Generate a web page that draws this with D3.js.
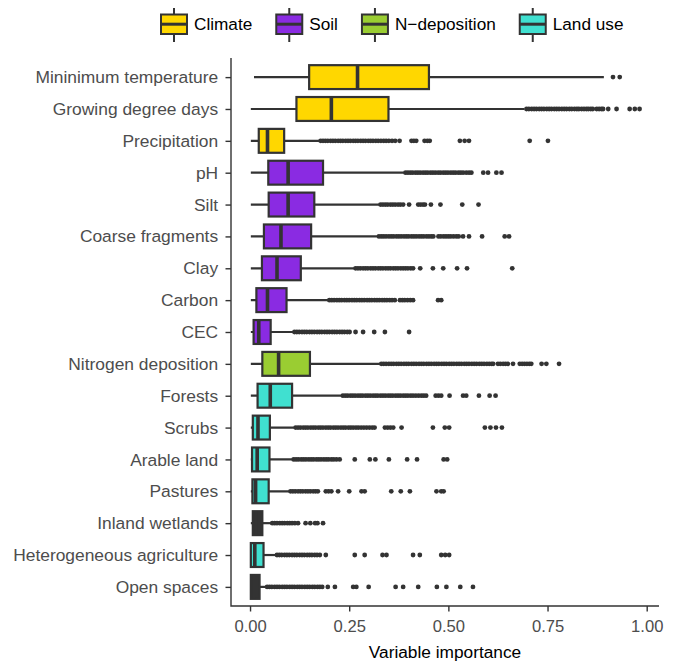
<!DOCTYPE html>
<html>
<head>
<meta charset="utf-8">
<script src="https://cdn.jsdelivr.net/npm/d3@7"></script>
<style>
  body { margin: 0; background: #fff; }
  text { font-family: "Liberation Sans", Arial, sans-serif; }
</style>
</head>
<body>
<div id="chart"></div>
<script>
// variables, top to bottom
const variables = ["Mininimum temperature", "Growing degree days", "Precipitation", "pH", "Silt",
  "Coarse fragments", "Clay", "Carbon", "CEC", "Nitrogen deposition", "Forests", "Scrubs",
  "Arable land", "Pastures", "Inland wetlands", "Heterogeneous agriculture", "Open spaces"];

const groups = ["Climate", "Climate", "Climate", "Soil", "Soil", "Soil", "Soil", "Soil", "Soil",
  "N\u2212deposition", "Land use", "Land use", "Land use", "Land use", "Land use", "Land use", "Land use"];

const groupNames = ["Climate", "Soil", "N\u2212deposition", "Land use"];
const groupColors = ["#FFD700", "#8A2BE2", "#9ACD32", "#40E0D0"];

// [lower whisker, q1, median, q3, upper whisker]
const stats = [
  [0.010, 0.149, 0.271, 0.451, 0.892],
  [0.002, 0.117, 0.205, 0.349, 0.692],
  [0.002, 0.022, 0.044, 0.086, 0.176],
  [0.002, 0.046, 0.096, 0.184, 0.390],
  [0.002, 0.047, 0.096, 0.162, 0.327],
  [0.002, 0.035, 0.078, 0.154, 0.323],
  [0.002, 0.030, 0.068, 0.128, 0.264],
  [0.002, 0.016, 0.044, 0.092, 0.198],
  [0.002, 0.009, 0.022, 0.052, 0.110],
  [0.002, 0.031, 0.072, 0.151, 0.329],
  [0.002, 0.019, 0.051, 0.106, 0.232],
  [0.002, 0.007, 0.020, 0.050, 0.113],
  [0.002, 0.005, 0.018, 0.049, 0.108],
  [0.002, 0.006, 0.014, 0.047, 0.100],
  [0.002, 0.007, 0.015, 0.031, 0.054],
  [0.002, 0.002, 0.012, 0.034, 0.066],
  [0.002, 0.002, 0.010, 0.024, 0.041]
];

const outliers = [
  [0.915, 0.932],
  [0.697, 0.703, 0.710, 0.716, 0.722, 0.729, 0.735, 0.741, 0.748, 0.754, 0.760, 0.767, 0.773, 0.779,
   0.786, 0.792, 0.798, 0.805, 0.811, 0.818, 0.824, 0.829, 0.836, 0.842, 0.848, 0.853, 0.859, 0.864,
   0.874, 0.880, 0.886, 0.890, 0.903, 0.924, 0.957, 0.970, 0.982],
  [0.178, 0.184, 0.190, 0.196, 0.203, 0.209, 0.215, 0.222, 0.228, 0.234, 0.241, 0.247, 0.253, 0.260,
   0.266, 0.272, 0.279, 0.285, 0.291, 0.298, 0.304, 0.310, 0.317, 0.323, 0.330, 0.337, 0.343, 0.350,
   0.358, 0.366, 0.377, 0.407, 0.413, 0.419, 0.440, 0.447, 0.453, 0.529, 0.541, 0.552, 0.705, 0.751],
  [0.392, 0.398, 0.404, 0.410, 0.417, 0.423, 0.429, 0.436, 0.442, 0.448, 0.455, 0.461, 0.467, 0.474,
   0.480, 0.487, 0.493, 0.499, 0.506, 0.512, 0.518, 0.525, 0.531, 0.537, 0.545, 0.552, 0.558,
   0.588, 0.600, 0.621, 0.634],
  [0.329, 0.335, 0.341, 0.347, 0.354, 0.360, 0.366, 0.373, 0.379, 0.386, 0.401, 0.424, 0.430, 0.436,
   0.441, 0.456, 0.480, 0.535, 0.576],
  [0.325, 0.331, 0.337, 0.343, 0.350, 0.356, 0.362, 0.369, 0.375, 0.381, 0.388, 0.394, 0.400, 0.407,
   0.413, 0.419, 0.426, 0.432, 0.438, 0.445, 0.451, 0.457, 0.462, 0.475, 0.481, 0.488, 0.494, 0.500,
   0.506, 0.513, 0.520, 0.526, 0.537, 0.552, 0.585, 0.642, 0.653],
  [0.266, 0.272, 0.278, 0.285, 0.291, 0.297, 0.304, 0.310, 0.316, 0.323, 0.329, 0.335, 0.342, 0.348,
   0.354, 0.361, 0.367, 0.373, 0.380, 0.386, 0.392, 0.398, 0.405, 0.411, 0.429, 0.461, 0.487, 0.522,
   0.547, 0.661],
  [0.200, 0.206, 0.212, 0.219, 0.225, 0.231, 0.238, 0.244, 0.250, 0.257, 0.263, 0.269, 0.276, 0.282,
   0.288, 0.295, 0.301, 0.307, 0.314, 0.320, 0.326, 0.333, 0.339, 0.345, 0.352, 0.358, 0.365, 0.378,
   0.384, 0.390, 0.397, 0.404, 0.411, 0.474, 0.482],
  [0.112, 0.118, 0.124, 0.131, 0.137, 0.143, 0.150, 0.156, 0.162, 0.169, 0.175, 0.181, 0.188, 0.194,
   0.200, 0.207, 0.213, 0.219, 0.226, 0.232, 0.238, 0.245, 0.251, 0.266, 0.285, 0.313, 0.340, 0.401],
  [0.331, 0.337, 0.343, 0.350, 0.356, 0.362, 0.369, 0.375, 0.381, 0.388, 0.394, 0.400, 0.407, 0.413,
   0.419, 0.426, 0.432, 0.438, 0.445, 0.451, 0.457, 0.464, 0.470, 0.476, 0.483, 0.489, 0.495, 0.502,
   0.508, 0.514, 0.521, 0.527, 0.533, 0.540, 0.546, 0.552, 0.559, 0.565, 0.571, 0.578, 0.584, 0.590,
   0.597, 0.603, 0.609, 0.613, 0.625, 0.631, 0.638, 0.644, 0.650, 0.663, 0.680, 0.686, 0.692, 0.698,
   0.704, 0.709, 0.735, 0.747, 0.779],
  [0.234, 0.240, 0.246, 0.253, 0.259, 0.265, 0.272, 0.278, 0.284, 0.291, 0.297, 0.303, 0.310, 0.316,
   0.322, 0.329, 0.335, 0.341, 0.348, 0.354, 0.360, 0.367, 0.373, 0.379, 0.386, 0.392, 0.398, 0.405,
   0.411, 0.418, 0.425, 0.432, 0.438, 0.444, 0.468, 0.475, 0.482, 0.503, 0.537, 0.545, 0.577, 0.604, 0.619],
  [0.115, 0.121, 0.127, 0.134, 0.140, 0.146, 0.153, 0.159, 0.165, 0.172, 0.178, 0.184, 0.191, 0.197,
   0.203, 0.210, 0.216, 0.222, 0.229, 0.235, 0.241, 0.248, 0.254, 0.260, 0.267, 0.273, 0.280, 0.287,
   0.294, 0.301, 0.308, 0.314, 0.340, 0.347, 0.354, 0.361, 0.382, 0.461, 0.491, 0.502, 0.592, 0.606,
   0.620, 0.635],
  [0.110, 0.116, 0.122, 0.129, 0.135, 0.141, 0.148, 0.154, 0.160, 0.167, 0.173, 0.179, 0.186, 0.192,
   0.198, 0.205, 0.211, 0.218, 0.226, 0.264, 0.302, 0.316, 0.350, 0.396, 0.421, 0.488, 0.497],
  [0.102, 0.108, 0.114, 0.121, 0.127, 0.133, 0.140, 0.146, 0.152, 0.159, 0.165, 0.171, 0.191, 0.198,
   0.205, 0.222, 0.250, 0.281, 0.289, 0.356, 0.380, 0.403, 0.470, 0.482, 0.488],
  [0.056, 0.062, 0.068, 0.075, 0.081, 0.087, 0.094, 0.100, 0.106, 0.113, 0.121, 0.140, 0.152, 0.164,
   0.170, 0.184],
  [0.068, 0.074, 0.080, 0.087, 0.093, 0.099, 0.106, 0.112, 0.118, 0.125, 0.131, 0.137, 0.144, 0.150,
   0.156, 0.163, 0.169, 0.176, 0.191, 0.264, 0.289, 0.334, 0.344, 0.411, 0.428, 0.482, 0.492, 0.502],
  [0.043, 0.049, 0.055, 0.062, 0.068, 0.074, 0.081, 0.087, 0.093, 0.100, 0.106, 0.112, 0.119, 0.125,
   0.131, 0.138, 0.144, 0.150, 0.157, 0.163, 0.170, 0.176, 0.182, 0.196, 0.214, 0.260, 0.268, 0.299,
   0.367, 0.386, 0.424, 0.471, 0.495, 0.530, 0.562]
];

const xTicks = [0, 0.25, 0.5, 0.75, 1];
const xTitle = "Variable importance";

const width = 678, height = 661;
const margin = {top: 58, right: 19, bottom: 55, left: 231};
const lineCol = "#333333";

const svg = d3.select("#chart").append("svg")
    .attr("width", width)
    .attr("height", height);

const x = d3.scaleLinear()
    .domain([-0.048, 1.031])
    .range([margin.left, width - margin.right]);
const y = d3.scalePoint()
    .domain(variables)
    .range([margin.top, height - margin.bottom])
    .padding(0.6);
const boxH = y.step() * 0.75;
const color = d3.scaleOrdinal().domain(groupNames).range(groupColors);

const rows = variables.map((v, i) => ({name: v, group: groups[i], s: stats[i], out: outliers[i]}));

// outliers
const gOut = svg.append("g");
rows.forEach(r => {
  gOut.selectAll(null)
    .data(r.out)
    .enter().append("circle")
    .attr("cx", d => x(d))
    .attr("cy", y(r.name))
    .attr("r", 2.4)
    .attr("fill", lineCol);
});

// whiskers
svg.append("g").selectAll("line")
    .data(rows)
    .enter().append("line")
    .attr("x1", d => x(d.s[0]))
    .attr("x2", d => x(d.s[4]))
    .attr("y1", d => y(d.name))
    .attr("y2", d => y(d.name))
    .attr("stroke", lineCol)
    .attr("stroke-width", 2.2);

// boxes (very narrow boxes get filled by their own outline)
svg.append("g").selectAll("rect")
    .data(rows)
    .enter().append("rect")
    .attr("x", d => x(d.s[1]))
    .attr("width", d => x(d.s[3]) - x(d.s[1]))
    .attr("y", d => y(d.name) - boxH / 2)
    .attr("height", boxH)
    .attr("fill", d => (x(d.s[3]) - x(d.s[1]) < 11) ? lineCol : color(d.group))
    .attr("stroke", lineCol)
    .attr("stroke-width", 2.2);

// medians
svg.append("g").selectAll("line")
    .data(rows)
    .enter().append("line")
    .attr("x1", d => x(d.s[2]))
    .attr("x2", d => x(d.s[2]))
    .attr("y1", d => y(d.name) - boxH / 2)
    .attr("y2", d => y(d.name) + boxH / 2)
    .attr("stroke", lineCol)
    .attr("stroke-width", 3.6);

// axes
const xAxis = svg.append("g")
    .attr("transform", "translate(0," + (height - margin.bottom) + ")")
    .call(d3.axisBottom(x).tickValues(xTicks).tickFormat(d3.format(".2f")).tickSize(5.5).tickPadding(8.5).tickSizeOuter(0));
const yAxis = svg.append("g")
    .attr("transform", "translate(" + margin.left + ",0)")
    .call(d3.axisLeft(y).tickSize(5.5).tickPadding(7.4).tickSizeOuter(0));

[xAxis, yAxis].forEach(g => {
  g.select(".domain").remove();
  g.selectAll(".tick line").attr("stroke", lineCol).attr("stroke-width", 1.4);
  g.selectAll(".tick text").attr("fill", "#4d4d4d").style("font-family", "'Liberation Sans', Arial, sans-serif");
});
xAxis.selectAll(".tick text").style("font-size", "16.6px");
yAxis.selectAll(".tick text").style("font-size", "17.4px");

// axis lines
svg.append("path")
    .attr("d", "M" + margin.left + "," + margin.top + "V" + (height - margin.bottom) + "H" + (width - margin.right))
    .attr("fill", "none")
    .attr("stroke", lineCol)
    .attr("stroke-width", 1.4);

svg.append("text")
    .attr("x", (margin.left + width - margin.right) / 2)
    .attr("y", 658)
    .attr("text-anchor", "middle")
    .style("font-size", "17.3px")
    .attr("fill", "#000")
    .text(xTitle);

// legend
const legend = svg.append("g");
let lx = 160;
groupNames.forEach(name => {
  const k = legend.append("g").attr("transform", "translate(" + lx + ",0)");
  k.append("line").attr("x1", 14).attr("x2", 14).attr("y1", 8).attr("y2", 42)
    .attr("stroke", lineCol).attr("stroke-width", 2);
  k.append("rect").attr("x", 1).attr("y", 14.5).attr("width", 26).attr("height", 19.5)
    .attr("fill", color(name)).attr("stroke", lineCol).attr("stroke-width", 2);
  k.append("line").attr("x1", 1).attr("x2", 27).attr("y1", 24.2).attr("y2", 24.2)
    .attr("stroke", lineCol).attr("stroke-width", 3);
  const t = k.append("text").attr("x", 34).attr("y", 24).attr("dy", "0.35em")
    .style("font-size", "17.2px").attr("fill", "#000").text(name);
  lx += 34 + t.node().getComputedTextLength() + 23;
});
</script>
</body>
</html>
